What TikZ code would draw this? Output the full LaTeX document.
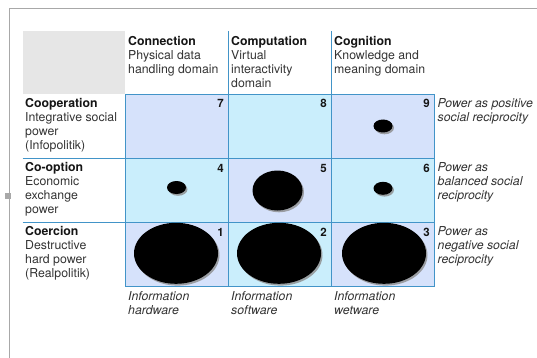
\documentclass[tikz,border=0pt]{standalone}
\usepackage{fontspec}
\setmainfont{TeX Gyre Heros}
\usetikzlibrary{shapes.geometric,shadows}
\definecolor{lav}{HTML}{D6E2FB}
\definecolor{cya}{HTML}{CAEEFC}
\definecolor{gridblue}{HTML}{4294C8}
\definecolor{hdrgrey}{HTML}{E6E6E6}
\definecolor{txt}{HTML}{333333}
\definecolor{bold}{HTML}{151515}
\definecolor{frame}{HTML}{A8A8A8}
\newcommand{\topstrut}{\rule{0pt}{10pt}}
\newcommand{\hd}[1]{\textcolor{bold}{\textbf{#1}}}
\begin{document}
\begin{tikzpicture}[x=1pt,y=-1pt,
  cell/.style={draw=gridblue, line width=1pt, minimum width=103pt, minimum height=64pt, inner sep=0pt, anchor=north west},
  num/.style={font=\fontsize{11.5}{14}\selectfont\bfseries, text=bold, anchor=base east, inner sep=0pt},
  lbl/.style={font=\fontsize{12.3}{14.2}\selectfont, text=txt, align=left, anchor=north west, inner sep=0pt},
  rlbl/.style={lbl, font=\fontsize{12.3}{14.2}\selectfont\itshape},
  blob/.style={ellipse, fill=black, inner sep=0pt, drop shadow={shadow xshift=1.5pt, shadow yshift=-1.8pt, fill=black!45, opacity=0.8}},
  gline/.style={draw=gridblue, line width=1pt}
]
\useasboundingbox (0,0) rectangle (537,358);
% frame
\coordinate (fa) at (9,9);
\coordinate (fb) at (537,9);
\coordinate (fc) at (9,358);
\draw[frame, line width=1pt] (fb) -- (fa) -- (fc);
\node[fill=frame, minimum size=6pt, inner sep=0pt] (handle) at (8,196) {};
% header grey box
\node[fill=hdrgrey, minimum width=102.3pt, minimum height=63pt, inner sep=0pt, anchor=north west] (corner) at (22.7,31) {};
% cells
\node[cell, fill=lav] (c7) at (125,94) {};
\node[cell, fill=cya] (c8) at (228,94) {};
\node[cell, fill=lav] (c9) at (331,94) {};
\node[cell, fill=cya] (c4) at (125,158) {};
\node[cell, fill=lav] (c5) at (228,158) {};
\node[cell, fill=cya] (c6) at (331,158) {};
\node[cell, fill=lav] (c1) at (125,222) {};
\node[cell, fill=cya] (c2) at (228,222) {};
\node[cell, fill=lav] (c3) at (331,222) {};
% extension lines
\coordinate (h2) at (228,31);
\coordinate (h3) at (331,31);
\coordinate (l4) at (22.7,158);
\coordinate (l1) at (22.7,222);
\draw[gline] (h2) -- (c8.north west);
\draw[gline] (h3) -- (c9.north west);
\draw[gline] (l4) -- (c4.north west);
\draw[gline] (l1) -- (c1.north west);
% numbers
\foreach \c/\n in {c7/7,c8/8,c9/9,c4/4,c5/5,c6/6,c1/1,c2/2,c3/3}{
  \node[num] (n\n) at ([shift={(-5,14)}]\c.north east) {\n};
}
% blobs
\node[blob, minimum width=19pt, minimum height=13pt] (e9) at (383,126) {};
\node[blob, minimum width=19pt, minimum height=13pt] (e4) at (176.5,187.5) {};
\node[blob, minimum width=19pt, minimum height=13pt] (e6) at (383,188.3) {};
\node[blob, minimum width=50pt, minimum height=40pt] (e5) at (277.5,190.5) {};
\node[blob, minimum width=84pt, minimum height=61pt] (e1) at (176,253.3) {};
\node[blob, minimum width=84pt, minimum height=61pt] (e2) at (279,253.3) {};
\node[blob, minimum width=84pt, minimum height=61pt] (e3) at (384,253.3) {};
% column headers
\node[lbl] (hc1) at (128,35) {\topstrut\hd{Connection}\\Physical data\\handling domain};
\node[lbl] (hc2) at (231,35) {\topstrut\hd{Computation}\\Virtual\\interactivity\\domain};
\node[lbl] (hc3) at (334,35) {\topstrut\hd{Cognition}\\Knowledge and\\meaning domain};
% row headers
\node[lbl] (hr7) at (25,97) {\topstrut\hd{Cooperation}\\Integrative social\\power\\(Infopolitik)};
\node[lbl] (hr4) at (25,161) {\topstrut\hd{Co-option}\\Economic\\exchange\\power};
\node[lbl] (hr1) at (25,225) {\topstrut\hd{Coercion}\\Destructive\\hard power\\(Realpolitik)};
% right labels
\node[rlbl] (rr7) at (437.5,97) {\topstrut Power as positive\\social reciprocity};
\node[rlbl] (rr4) at (437.5,161) {\topstrut Power as\\balanced social\\reciprocity};
\node[rlbl] (rr1) at (437.5,225) {\topstrut Power as\\negative social\\reciprocity};
% bottom labels
\node[rlbl] (b1) at (128,290) {\topstrut Information\\hardware};
\node[rlbl] (b2) at (231,290) {\topstrut Information\\software};
\node[rlbl] (b3) at (334,290) {\topstrut Information\\wetware};
\end{tikzpicture}
\end{document}
